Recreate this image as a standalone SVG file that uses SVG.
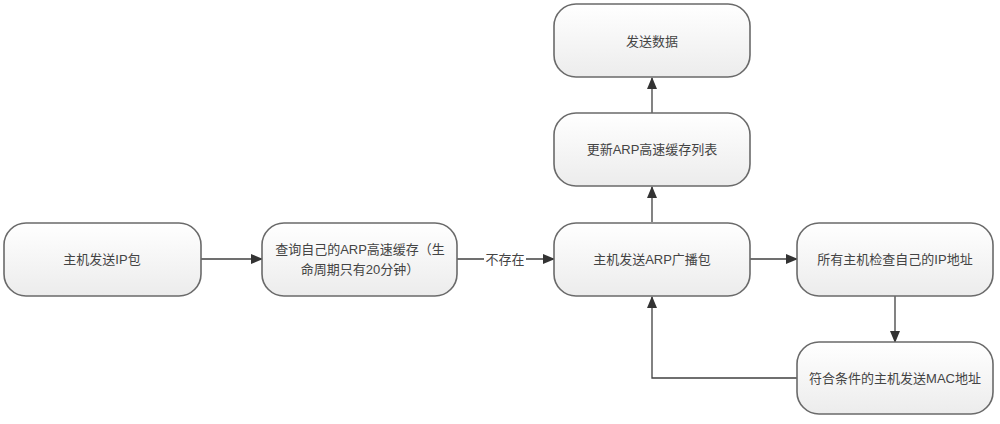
<svg xmlns="http://www.w3.org/2000/svg" width="1000" height="424" viewBox="0 0 1000 424">
<defs>
<linearGradient id="g" x1="0" y1="0" x2="0" y2="1">
<stop offset="0" stop-color="#ffffff"/>
<stop offset="1" stop-color="#ececec"/>
</linearGradient>
<marker id="arr" markerWidth="12" markerHeight="10" refX="11" refY="5" orient="auto" markerUnits="userSpaceOnUse">
<path d="M0,0 L12,5 L0,10 Z" fill="#333"/>
</marker>
<style>
.box{fill:url(#g);stroke:#6a6a6a;stroke-width:1.6}
.t{font-family:"Liberation Sans","Noto Sans CJK SC",sans-serif;font-size:13px;fill:#444;text-anchor:middle;dominant-baseline:central}
.c{fill:none;stroke:#404040;stroke-width:1.3;marker-end:url(#arr)}
</style>
</defs>
<rect width="1000" height="424" fill="#fff"/>
<g id="connectors">
<path class="c" d="M201,259 H262"/>
<path class="c" d="M457,259 H554"/>
<rect x="484" y="251" width="42" height="16" fill="#fff"/>
<text class="t" x="505" y="259">不存在</text>
<path class="c" d="M750,259 H797"/>
<path class="c" d="M895,296 V342"/>
<path class="c" d="M797,378 H652 V297"/>
<path class="c" d="M652,222 V187"/>
<path class="c" d="M652,113 V78"/>
</g>
<g id="n1"><rect class="box" x="4" y="223" width="197" height="73" rx="22"/><text class="t" x="102" y="259">主机发送IP包</text></g>
<g id="n2"><rect class="box" x="262" y="223" width="195" height="73" rx="22"/><text class="t" x="360" y="249">查询自己的ARP高速缓存（生</text><text class="t" x="360" y="269">命周期只有20分钟）</text></g>
<g id="n3"><rect class="box" x="554" y="223" width="196" height="73" rx="22"/><text class="t" x="652" y="259">主机发送ARP广播包</text></g>
<g id="n4"><rect class="box" x="797" y="223" width="196" height="73" rx="22"/><text class="t" x="895" y="259">所有主机检查自己的IP地址</text></g>
<g id="n5"><rect class="box" x="797" y="342" width="196" height="72" rx="22"/><text class="t" x="895" y="378">符合条件的主机发送MAC地址</text></g>
<g id="n6"><rect class="box" x="554" y="113" width="196" height="73" rx="22"/><text class="t" x="652" y="149">更新ARP高速缓存列表</text></g>
<g id="n7"><rect class="box" x="554" y="4" width="196" height="73" rx="22"/><text class="t" x="652" y="41">发送数据</text></g>
</svg>
